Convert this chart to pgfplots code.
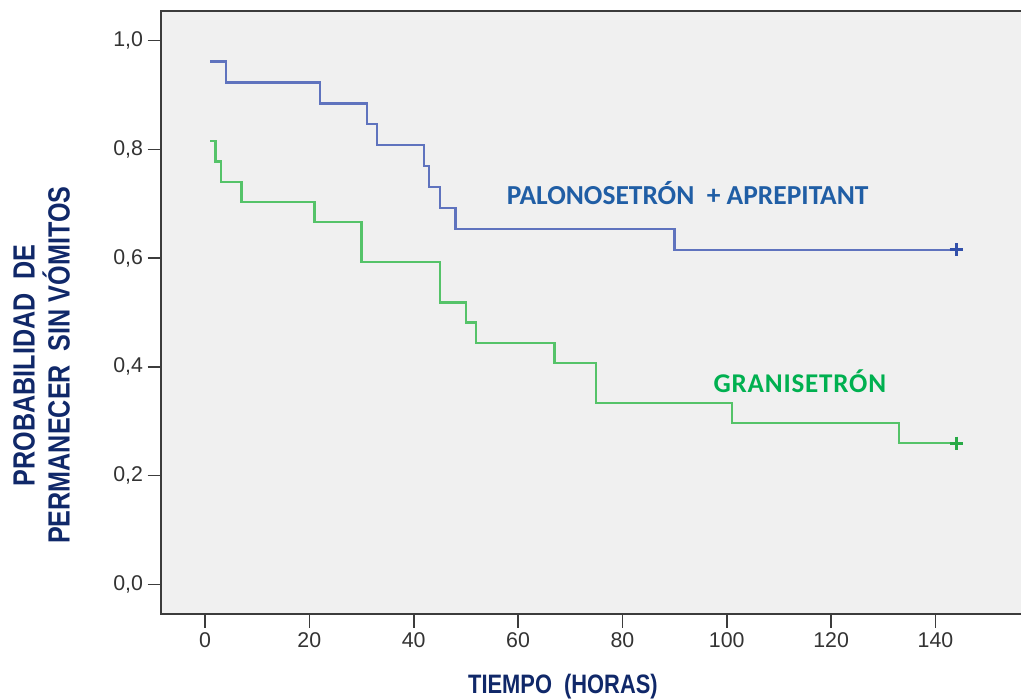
\documentclass[border=0pt]{standalone}
\usepackage{fontspec}
\setmainfont{Liberation Sans}
\newfontfamily\narrowbold[FakeStretch=0.82]{Liberation Sans Bold}
\newfontfamily\calibri{Carlito}
\usepackage{pgfplots}
\pgfplotsset{compat=1.18}
\definecolor{plotbg}{RGB}{240,240,240}
\definecolor{axisgray}{RGB}{60,60,60}
\definecolor{navy}{RGB}{16,40,105}
\definecolor{blueline}{RGB}{95,115,190}
\definecolor{bluemark}{RGB}{50,80,170}
\definecolor{bluetext}{RGB}{32,94,165}
\definecolor{greenline}{RGB}{85,195,105}
\definecolor{greenmark}{RGB}{40,170,70}
\definecolor{greentext}{RGB}{0,176,80}

\begin{document}
\begin{tikzpicture}
\begin{axis}[
    name=ax,
    scale only axis,
    width=652.5pt, height=452.5pt,
    xmin=-8.43, xmax=158.3,
    ymin=-0.0552, ymax=1.0546,
    xtick={0,20,...,140},
    ytick={0,0.2,...,1.0},
    tick align=outside,
    tick pos=left,
    major tick length=10pt,
    every tick/.style={axisgray, line width=1.2pt},
    axis line style={axisgray, line width=1.3pt},
    axis background/.style={fill=plotbg},
    /pgf/number format/assume math mode=true,
    ticklabel style={font=\fontsize{16}{18}\selectfont, text=black!80},
    yticklabel style={/pgf/number format/.cd, use comma, fixed, fixed zerofill, precision=1},
    clip=false,
]
% Palonosetron + aprepitant
\addplot[blueline, line width=1.7pt, const plot, line join=miter] coordinates {
    (1,0.9615) (4,0.9231) (22,0.8846) (31,0.8462) (33,0.8077) (42,0.7692)
    (43,0.7308) (45,0.6923) (48,0.6538) (90,0.6154) (144,0.6154)
};
\addplot[only marks, mark=+, mark size=5pt, bluemark, mark options={line width=2pt}] coordinates {(144,0.6154)};

% Granisetron
\addplot[greenline, line width=1.7pt, const plot, line join=miter] coordinates {
    (1,0.8148) (2,0.7778) (3,0.7407) (7,0.7037) (21,0.6667) (30,0.5926)
    (45,0.5185) (50,0.4815) (52,0.4444) (67,0.4074) (75,0.3333) (101,0.2963)
    (133,0.2593) (144,0.2593)
};
\addplot[only marks, mark=+, mark size=5pt, greenmark, mark options={line width=2pt}] coordinates {(144,0.2593)};

\node[text=bluetext, font=\calibri\bfseries\fontsize{20.6}{22}\selectfont] at (axis cs:92.5,0.72) {PALONOSETRÓN \ + APREPITANT};
\node[text=greentext, font=\calibri\bfseries\fontsize{20.3}{22}\selectfont\addfontfeatures{LetterSpace=3}] at (axis cs:114,0.374) {GRANISETRÓN};

\node[text=navy, font=\narrowbold\fontsize{20}{22}\selectfont] at (axis cs:68.6,-0.189) {TIEMPO \ (HORAS)};
\node[text=navy, rotate=90, align=center, font=\narrowbold\fontsize{23}{26.25}\selectfont] at (axis cs:-31.3,0.403) {PROBABILIDAD \ DE\\PERMANECER \ SIN VÓMITOS};
\end{axis}
\pgfresetboundingbox
\path[use as bounding box] ([xshift=-120.75pt, yshift=-62.8pt]ax.south west) rectangle ([xshift=-7.5pt, yshift=8.25pt]ax.north east);
\end{tikzpicture}
\end{document}
